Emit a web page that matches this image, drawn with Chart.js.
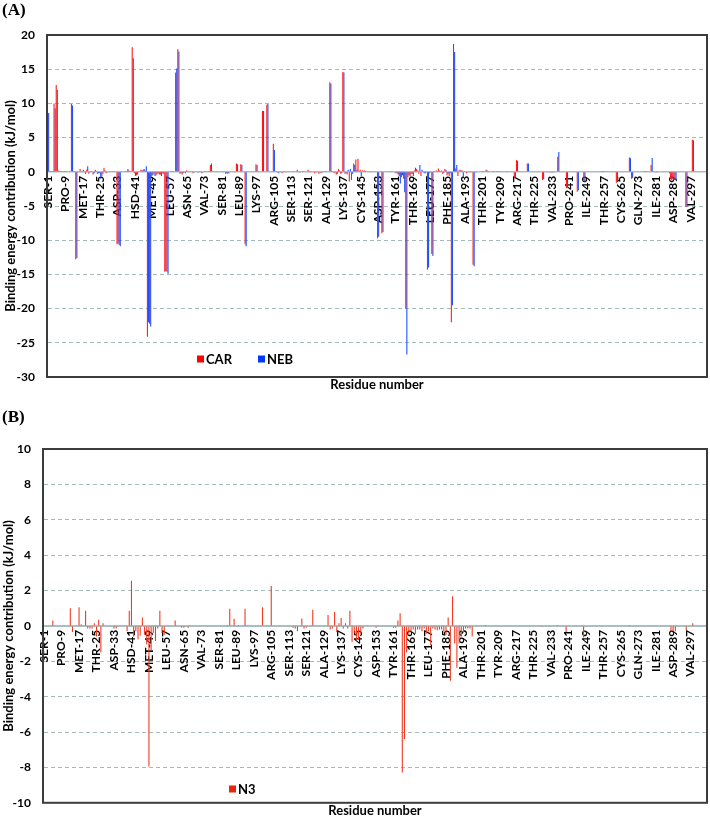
<!DOCTYPE html>
<html><head><meta charset="utf-8">
<script src="https://cdn.jsdelivr.net/npm/chart.js@4.4.0/dist/chart.umd.min.js"></script>
<style>
html,body{margin:0;padding:0;background:#fff;width:710px;height:822px;overflow:hidden}
#ca{position:absolute;left:0;top:0}
#cb{position:absolute;left:0;top:400px}
</style></head><body>
<canvas id="ca" width="710" height="400"></canvas>
<canvas id="cb" width="710" height="422"></canvas>
<script>
// ---------- DATA ----------
const residueNumbers = Array.from({length: 304}, (_, i) => i + 1);
const tickLabels = ['SER-1','PRO-9','MET-17','THR-25','ASP-33','HSD-41','MET-49','LEU-57','ASN-65','VAL-73',
  'SER-81','LEU-89','LYS-97','ARG-105','SER-113','SER-121','ALA-129','LYS-137','CYS-145','ASP-153',
  'TYR-161','THR-169','LEU-177','PHE-185','ALA-193','THR-201','TYR-209','ARG-217','THR-225','VAL-233',
  'PRO-241','ILE-249','THR-257','CYS-265','GLN-273','ILE-281','ASP-289','VAL-297'];

const carValues = [
  8.4, 0.1, 0.1, 10.0, 12.7, 0.2, 0.1, 0.0, 0.1, 0.0,          // 1-10
  0.1, 9.9, 0.1, -12.8, -0.1, 0.4, 0.1, -0.1, 0.3, -0.3,       // 11-20
  0.1, -0.4, 0.3, -0.3, -0.2, -0.7, 0.6, -0.2, 0.0, 0.1,       // 21-30
  0.1, 0.0, -10.6, -10.7, 0.1, 0.0, 0.1, 0.4, 0.1, 18.2,       // 31-40
  -0.2, -0.5, 0.1, 0.3, 0.3, 0.2, -24.1, -22.2, -0.6, -0.3,    // 41-50
  -0.5, -0.2, -0.4, -0.2, -14.6, -14.6, 0.0, 0.1, 0.1, 14.5,   // 51-60
  17.9, -0.3, -0.4, -0.1, 0.2, 0.0, 0.1, -0.2, 0.0, -0.1,      // 61-70
  0.1, -0.2, 0.0, 0.0, 0.1, 1.0, 0.1, 0.0, 0.1, 0.0,           // 71-80
  0.1, -0.1, -0.3, -0.3, 0.0, 0.0, -0.1, 1.2, 0.0, 1.1,        // 81-90
  0.0, -10.6, 0.0, 0.0, 0.1, 0.0, 1.1, 0.1, 0.0, 8.9,          // 91-100
  0.0, 9.8, 0.0, 0.0, 4.1, 0.0, -0.1, 0.0, -0.2, 0.1,          // 101-110
  -0.1, 0.0, 0.0, 0.1, 0.0, 0.3, -0.1, 0.0, 0.1, 0.0,          // 111-120
  0.3, -0.1, 0.0, -0.2, -0.1, -0.3, -0.2, 0.1, 0.1, 0.0,       // 121-130
  13.1, 0.1, -0.2, -0.4, 0.4, -0.3, 14.6, -0.3, -0.4, -1.4,    // 131-140
  -1.2, 1.2, 1.8, 1.9, 0.3, 0.2, 0.2, 0.0, 0.0, -0.1,          // 141-150
  0.0, 0.0, -9.7, 0.0, -9.0, 0.0, 0.0, 0.0, 0.1, 0.0,          // 151-160
  -0.1, -0.2, -0.6, -0.8, -1.0, -20.0, -0.8, -0.6, -0.3, 0.2,  // 161-170
  0.4, -0.3, -0.6, 0.1, -0.2, -14.3, -0.2, -12.0, 0.1, 0.2,    // 171-180
  0.5, 0.1, -0.3, 0.4, -0.5, -0.6, -22.0, 18.7, 0.5, -0.6,     // 181-190
  0.3, 0.2, 0.1, -0.2, 0.0, -0.1, -13.6, -0.1, 0.0, 0.0,       // 191-200
  0.1, 0.0, 0.3, 0.1, 0.0, 0.1, 0.0, 0.1, 0.0, 0.1,            // 201-210
  0.0, 0.0, 0.0, 0.0, 0.0, -0.9, 1.7, 0.0, 0.0, 0.0,           // 211-220
  0.0, 1.2, 0.0, 0.0, 0.0, 0.0, 0.0, 0.0, -1.2, 0.0,           // 221-230
  -0.1, -0.1, -0.1, -0.1, 0.0, 2.2, 0.0, 0.0, 0.0, -2.4,       // 231-240
  0.0, 0.0, 0.0, 0.0, -2.9, 0.0, 0.0, -1.3, 0.0, 0.0,          // 241-250
  0.0, 0.0, 0.0, 0.0, 0.0, 0.1, 0.1, 0.0, 0.1, 0.0,            // 251-260
  0.0, 0.0, -1.6, 0.0, 0.0, 0.0, 0.0, 0.0, 2.1, -1.0,          // 261-270
  0.0, 0.0, 0.0, 0.0, 0.0, 0.1, 0.1, 0.0, 1.0, 0.1,            // 271-280
  -0.1, -0.1, 0.0, 0.0, 0.0, 0.0, 0.0, -1.1, -1.0, -1.2,       // 281-290
  0.0, 0.0, 0.0, 0.0, -5.1, 0.0, 0.0, 4.7, 0.0, 0.0,           // 291-300
  0.0, 0.0, 0.0, 0.0                                           // 301-304
];

const nebValues = [
  8.6, 0.1, 0.1, 9.3, 12.0, 0.1, 0.1, 0.1, 0.1, 0.0,           // 1-10
  0.0, 9.7, 0.1, -12.6, 0.0, -0.1, 0.3, -0.3, 0.8, -0.1,       // 11-20
  0.0, -0.2, 0.1, -0.2, -1.0, -0.3, 0.2, -0.1, 0.0, 0.0,       // 21-30
  0.0, 0.0, -10.5, -10.9, 0.0, 0.0, 0.1, 0.2, 0.0, 16.6,       // 31-40
  -0.6, -0.4, 0.0, 0.2, 0.4, 0.8, -22.0, -22.6, -0.5, -0.6,    // 41-50
  -0.3, -0.4, -0.6, -0.3, -14.5, -14.9, 0.1, 0.1, 0.0, 15.1,   // 51-60
  17.6, -0.2, -0.2, -0.2, 0.1, 0.0, 0.0, -0.1, 0.0, -0.1,      // 61-70
  0.0, -0.1, 0.1, 0.0, 0.1, 1.2, 0.0, 0.0, 0.0, 0.0,           // 71-80
  0.0, 0.0, -0.2, -0.2, 0.0, 0.0, 0.0, 1.1, 0.0, 1.0,          // 81-90
  0.0, -10.9, 0.0, 0.0, 0.0, 0.0, 1.0, 0.0, 0.0, 8.9,          // 91-100
  0.0, 9.9, 0.0, 0.0, 3.2, 0.1, -0.2, 0.0, -0.1, 0.0,          // 101-110
  0.0, 0.0, 0.0, 0.0, 0.0, 0.1, -0.1, 0.1, 0.0, 0.0,           // 111-120
  0.1, 0.0, 0.0, -0.1, 0.0, -0.1, -0.1, 0.0, 0.0, 0.0,         // 121-130
  12.9, 0.0, -0.1, -0.3, 0.2, -0.2, 14.5, -0.2, 0.3, 0.4,      // 131-140
  -0.3, 1.0, 0.3, 0.1, -0.6, 0.1, 0.1, 0.0, 0.0, 0.0,          // 141-150
  0.0, 0.0, -9.5, 0.0, -8.8, 0.0, 0.0, 0.0, 0.0, 0.0,          // 151-160
  -0.2, -0.4, -1.7, -0.5, -3.0, -26.7, -0.5, -0.3, -0.6, 0.6,  // 161-170
  0.2, 1.0, 0.3, -0.2, -0.1, -14.0, -0.1, -12.3, 0.0, 0.1,     // 171-180
  0.2, 0.2, -0.2, 0.3, -0.3, -0.2, -19.5, 17.5, 1.0, 0.2,      // 181-190
  0.2, -0.8, 0.0, -0.1, -0.1, 0.0, -13.8, -0.1, 0.0, 0.0,      // 191-200
  0.1, 0.0, 0.2, 0.0, 0.0, 0.1, 0.0, 0.1, 0.0, 0.0,            // 201-210
  0.0, 0.1, 0.0, 0.0, 0.0, -0.8, 1.6, 0.0, 0.0, 0.0,           // 211-220
  0.0, 1.2, 0.0, 0.0, 0.0, 0.0, 0.0, 0.0, -1.1, 0.0,           // 221-230
  0.0, -0.1, -0.1, -0.1, 0.0, 2.9, 0.0, 0.0, 0.0, -2.1,        // 231-240
  0.0, 0.0, 0.0, 0.0, -2.7, 0.0, 0.0, -1.5, 0.0, 0.0,          // 241-250
  0.0, 0.0, 0.0, 0.0, 0.0, 0.1, 0.1, 0.0, 0.0, 0.0,            // 251-260
  0.0, 0.0, -1.5, 0.0, 0.0, 0.0, 0.0, 0.0, 2.0, -0.9,          // 261-270
  0.0, 0.0, 0.0, 0.0, 0.0, 0.1, 0.0, 0.0, 2.0, 0.0,            // 271-280
  -0.1, 0.0, 0.0, 0.0, 0.0, 0.0, -0.2, -1.2, -1.2, -1.1,       // 281-290
  0.0, 0.0, 0.0, 0.0, -5.1, 0.0, 0.0, 4.6, 0.0, 0.0,           // 291-300
  0.0, 0.0, 0.0, 0.0                                           // 301-304
];

const n3Values = [
  0, 0, 0, 0, 0.3, 0, 0, 0, 0, 0,                              // 1-10
  0, 0, 1.0, -0.35, 0, 0, 1.05, 0.1, 0, 0.85,                  // 11-20
  -0.15, -0.15, -0.15, 0.15, -0.6, 0.35, -1.5, 0.15, 0, 0,     // 21-30
  0, 0, -0.15, -0.15, 0, 0, 0, 0, -0.3, 0.85,                  // 31-40
  2.55, -0.6, -0.3, -0.75, -0.55, 0.47, -0.5, -1.05, -7.95, -1.4, // 41-50
  -0.4, -0.85, -0.15, 0.85, -0.4, -0.5, 0, 0, 0, 0,            // 51-60
  0.3, 0, 0, -0.1, -0.1, 0, -0.1, 0, 0, 0,                     // 61-70
  0, 0, 0, 0, 0, -0.05, 0, 0, 0, 0,                            // 71-80
  0, 0, 0, 0, 0.05, 0.97, 0, 0.41, 0, 0.05,                    // 81-90
  0, 0, 0.97, 0, 0, 0, 0, 0, 0, 0,                             // 91-100
  1.05, 0, 0, 0, 2.25, 0, 0, 0, 0, 0,                          // 101-110
  0, 0, 0, 0, -0.1, -0.15, -0.3, 0, 0.42, -0.15,               // 111-120
  -0.1, 0, 0, 0.92, 0, 0, 0, 0, 0, 0,                          // 121-130
  0.61, -0.2, -0.15, 0.78, -0.35, 0.15, 0.44, -0.15, 0.15, -0.15, // 131-140
  0.86, -0.9, -0.4, -0.8, -0.75, -0.45, -0.15, 0, 0, 0,        // 141-150
  0, 0, -0.1, 0, 0, 0, 0, 0, 0, 0,                             // 151-160
  -0.1, -0.1, 0.3, 0.72, -8.29, -6.4, -1.5, -0.45, -0.35, -0.2, // 161-170
  -0.45, -0.2, -0.2, -0.3, -0.15, -0.45, -0.3, -1.1, -0.15, -0.2, // 171-180
  -0.25, -0.2, -0.2, -0.3, -0.5, 0.47, -3.1, 1.68, -1.0, -2.36, // 181-190
  -1.0, -0.6, -0.35, -0.15, -0.15, -0.15, -0.6, 0, 0, 0,       // 191-200
  0, 0, 0.05, 0, 0, 0, 0, 0, 0, 0,                             // 201-210
  0, 0, 0, 0, 0, 0, 0, 0, 0, 0,                                // 211-220
  0, 0, 0, 0, 0, 0, 0, 0, -0.05, 0,                            // 221-230
  0, 0, 0, 0, 0, 0.05, 0, 0, 0, -0.35,                         // 231-240
  0, 0, 0, 0, 0, 0, 0, -0.65, 0, 0,                            // 241-250
  0, 0, 0, 0, 0, 0, 0, 0, 0, 0,                                // 251-260
  0, 0, 0, 0, 0, 0, 0, 0, 0.05, 0,                             // 261-270
  0, 0, 0, 0, 0, 0, 0, 0, 0, 0,                                // 271-280
  0, 0, 0, 0, 0, 0, 0, -0.3, -0.3, -0.3,                       // 281-290
  0, 0, 0, 0, -0.25, 0, 0, 0.15, 0, 0,                         // 291-300
  0, 0, 0, 0                                                   // 301-304
];

// ---------- STYLE / PLUGINS ----------
Chart.defaults.font.family = 'Lato, "Open Sans", sans-serif';
Chart.defaults.font.weight = 'bold';
Chart.defaults.color = '#000';

const framePlugin = {
  id: 'frame',
  afterDraw(chart) {
    const {ctx, chartArea: a} = chart;
    ctx.save();
    ctx.strokeStyle = '#3c3c3c';
    ctx.lineWidth = 2;
    ctx.strokeRect(a.left, a.top, a.right - a.left, a.bottom - a.top);
    ctx.restore();
  }
};

const legendPlugin = {
  id: 'boxLegend',
  afterDraw(chart, args, opts) {
    const ctx = chart.ctx;
    ctx.save();
    ctx.font = 'bold 13px Lato, sans-serif';
    ctx.textBaseline = 'middle';
    ctx.textAlign = 'left';
    chart.data.datasets.forEach((ds, i) => {
      const x = opts.xs[i], y = opts.y;
      ctx.fillStyle = ds.legendColor;
      ctx.fillRect(x, y - 3.5, 7, 7);
      ctx.fillStyle = '#000';
      ctx.fillText(ds.label, x + 9, y + 0.5);
    });
    ctx.restore();
  }
};

function makeChart(id, cfg) {
  return new Chart(document.getElementById(id), {
    type: 'bar',
    data: { labels: residueNumbers, datasets: cfg.datasets },
    options: {
      responsive: false,
      animation: false,
      events: [],
      layout: { padding: { left: 2, right: 3, top: 0, bottom: 0 } },
      plugins: {
        legend: { display: false },
        tooltip: { enabled: false },
        title: {
          display: true, text: cfg.panel, align: 'start', color: '#000',
          font: { family: '"Liberation Serif", "Times New Roman", serif', size: 17, weight: 'bold', lineHeight: 1.2 },
          padding: cfg.titlePadding
        },
        boxLegend: { xs: cfg.legendXs, y: cfg.legendY }
      },
      scales: {
        x: {
          type: 'category',
          position: { y: 0 },
          offset: true,
          grid: { display: false, drawTicks: false },
          border: { display: true, color: '#A9BEC2', width: cfg.zeroWidth },
          ticks: {
            autoSkip: false, minRotation: 90, maxRotation: 90, padding: 4,
            font: { size: 12, weight: 'bold' }, color: '#000',
            callback: (v, i) => (i % 8 === 0 ? tickLabels[i / 8] : '')
          },
          afterFit: s => { s.height = 0; s.paddingLeft = 0; s.paddingRight = 0; }
        },
        x2: {
          type: 'category', axis: 'x', position: 'bottom', offset: true,
          grid: { display: false, drawTicks: false },
          border: { display: false },
          ticks: { display: false },
          title: {
            display: true, text: 'Residue number', color: '#000',
            font: { size: 13, weight: 'bold', lineHeight: 1 },
            padding: { top: 0, bottom: cfg.xTitlePad }
          },
          afterFit: s => { s.height = cfg.x2Height; s.paddingLeft = 0; s.paddingRight = 0; }
        },
        y: {
          min: cfg.yMin, max: cfg.yMax,
          ticks: { stepSize: cfg.yStep, padding: 12, font: { size: 12, weight: 'bold' }, color: '#000' },
          grid: {
            drawTicks: false, lineWidth: 1,
            color: c => (c.tick && c.tick.value === 0) ? 'rgba(0,0,0,0)' : '#A4BBBB'
          },
          border: { display: true, color: '#3c3c3c', width: 2, dash: [4, 3] },
          title: {
            display: true, text: 'Binding energy contribution (kJ/mol)', color: '#000',
            font: { size: 13, weight: 'bold', lineHeight: 1 },
            padding: { top: cfg.yTitlePad, bottom: 0 }
          },
          afterFit: s => { s.width = cfg.yWidth; }
        }
      }
    },
    plugins: [framePlugin, legendPlugin]
  });
}

makeChart('ca', {
  panel: '(A)',
  titlePadding: { top: 0, bottom: 14.6 },
  legendXs: [197, 258], legendY: 359,
  zeroWidth: 1.5,
  x2Height: 23, xTitlePad: 8.5,
  yMin: -30, yMax: 20, yStep: 5,
  yTitlePad: 2.5, yWidth: 45,
  datasets: [
    { label: 'CAR', data: carValues, backgroundColor: '#FF1A1A', legendColor: '#FF0000',
      barPercentage: 1, categoryPercentage: 1, borderWidth: 0, inflateAmount: 0 },
    { label: 'NEB', data: nebValues, backgroundColor: '#1A50FF', legendColor: '#0038FF',
      barPercentage: 1, categoryPercentage: 1, borderWidth: 0, inflateAmount: 0 }
  ]
});

makeChart('cb', {
  panel: '(B)',
  titlePadding: { top: 7.3, bottom: 21.3 },
  legendXs: [229], legendY: 389,
  zeroWidth: 2,
  x2Height: 15, xTitlePad: 0,
  yMin: -10, yMax: 10, yStep: 2,
  yTitlePad: 0, yWidth: 41,
  datasets: [
    { label: 'N3', data: n3Values, backgroundColor: '#F03A22', legendColor: '#E8250F',
      barPercentage: 0.5, categoryPercentage: 1, borderWidth: 0, inflateAmount: 0 }
  ]
});
</script>
</body></html>
